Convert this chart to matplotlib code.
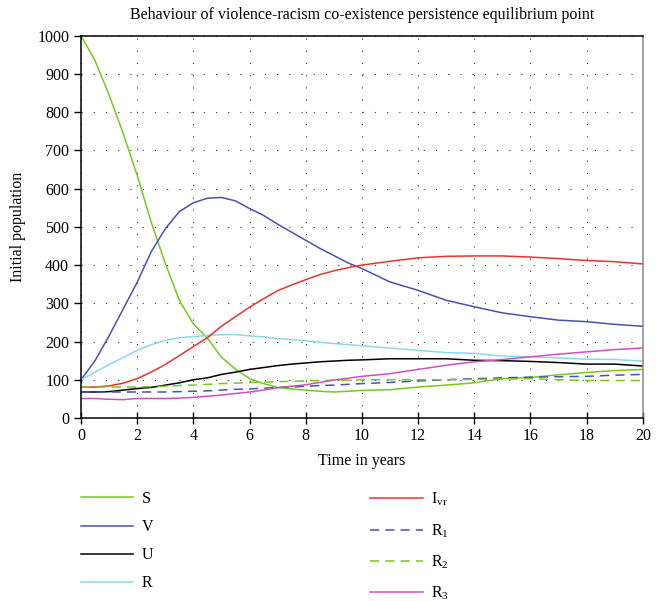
import matplotlib
matplotlib.use("Agg")
import matplotlib.pyplot as plt

plt.rcParams['font.family'] = ['Liberation Serif', 'DejaVu Serif']
plt.rcParams['mathtext.fontset'] = 'custom'
plt.rcParams['mathtext.rm'] = 'Liberation Serif'
plt.rcParams['mathtext.it'] = 'Liberation Serif'

# time grid (years)
t = [0, 0.5, 1, 1.5, 2, 2.5, 3, 3.5, 4, 4.5, 5, 5.5, 6, 6.5, 7, 7.5, 8, 8.5, 9, 9.5,
     10, 11, 12, 13, 14, 15, 16, 17, 18, 19, 20]

S = [1000, 935, 845, 745, 635, 512, 405, 308, 246, 209, 159, 128, 103, 90, 80, 76, 73, 70, 68, 70,
     72, 74, 81, 86, 92, 103, 106, 113, 119, 124, 127]
V = [100, 150, 215, 285, 355, 435, 495, 540, 563, 575, 577, 568, 548, 530, 507, 486, 465, 444, 425, 406,
     391, 356, 334, 308, 291, 275, 265, 256, 252, 245, 240]
U = [68, 68, 69, 73, 77, 80, 86, 92, 100, 105, 114, 120, 127, 132, 137, 141, 144, 147, 149, 151,
     152, 155, 155, 155, 151, 150, 148, 145, 141, 141, 136]
R = [100, 120, 140, 158, 177, 192, 203, 210, 213, 216, 218, 218, 215, 212, 208, 205, 202, 198, 195, 192,
     189, 183, 177, 171, 169, 162, 160, 157, 154, 153, 149]
Ivr = [81, 81, 84, 91, 103, 120, 140, 163, 187, 210, 240, 265, 290, 312, 333, 348, 362, 375, 385, 393,
       400, 410, 419, 423, 424, 424, 421, 417, 412, 409, 403]
R1 = [68, 68, 68, 68, 68, 68, 68, 69, 70, 71, 73, 75, 76, 78, 80, 81, 83, 85, 86, 88,
      90, 93, 97, 100, 103, 105, 107, 108, 109, 112, 114]
R2 = [81, 81, 81, 81, 81, 82, 83, 85, 86, 88, 90, 91, 93, 94, 95, 96, 97, 98, 99, 99,
      100, 100, 100, 100, 101, 102, 103, 100, 98, 98, 98]
R3 = [51, 51, 49, 48, 51, 51, 51, 52, 54, 57, 60, 64, 68, 73, 79, 83, 87, 93, 99, 104,
      109, 116, 127, 138, 147, 153, 160, 167, 173, 179, 183]

green = '#78c81e'
blue = '#4a52b0'
cyan = '#8ad8e8'
red = '#e8342a'
magenta = '#d050c0'

fig = plt.figure(figsize=(6.64, 6.01), dpi=100)
ax = fig.add_axes([0.122, 0.3045, 0.846, 0.636])

lw = 1.1
ax.plot(t, S, color=green, lw=lw, label='S')
ax.plot(t, V, color=blue, lw=lw, label='V')
ax.plot(t, U, color='black', lw=lw, label='U')
ax.plot(t, R, color=cyan, lw=lw, label='R')
ax.plot(t, Ivr, color=red, lw=lw, label=r'I$_{\rm vr}$')
ax.plot(t, R1, color=blue, lw=lw, ls=(0, (6, 4)), label=r'R$_{\rm 1}$')
ax.plot(t, R2, color=green, lw=lw, ls=(0, (6, 4)), label=r'R$_{\rm 2}$')
ax.plot(t, R3, color=magenta, lw=lw, label=r'R$_{\rm 3}$')

ax.set_xlim(0, 20)
ax.set_ylim(0, 1000)
ax.set_xticks(range(0, 21, 2))
ax.set_yticks(range(0, 1001, 100))
ax.grid(True, color='#333333', lw=0.8, ls=(0, (1, 10)))
ax.tick_params(labelsize=11.5, length=5, width=1, color='black')
ax.tick_params(axis='x', direction='inout', length=8)
for sp in ax.spines.values():
    sp.set_linewidth(1.1)
ax.spines['right'].set_color('#888888')

ax.set_title('Behaviour of violence-racism co-existence persistence equilibrium point',
             fontsize=11.5, pad=12)
ax.set_xlabel('Time in years', fontsize=11.5, labelpad=6)
ax.set_ylabel('Initial population', fontsize=11.5, labelpad=8)

h, l = ax.get_legend_handles_labels()
leg1 = fig.legend(h[:4], l[:4], loc='upper left', bbox_to_anchor=(0.1, 0.207),
                  frameon=False, fontsize=11.5, handlelength=3.3, handletextpad=0.5,
                  labelspacing=0.76)
leg2 = fig.legend(h[4:], l[4:], loc='upper left', bbox_to_anchor=(0.536, 0.207),
                  frameon=False, fontsize=11.5, handlelength=3.3, handletextpad=0.5,
                  labelspacing=0.86)

fig.savefig('out.png', dpi=100)
